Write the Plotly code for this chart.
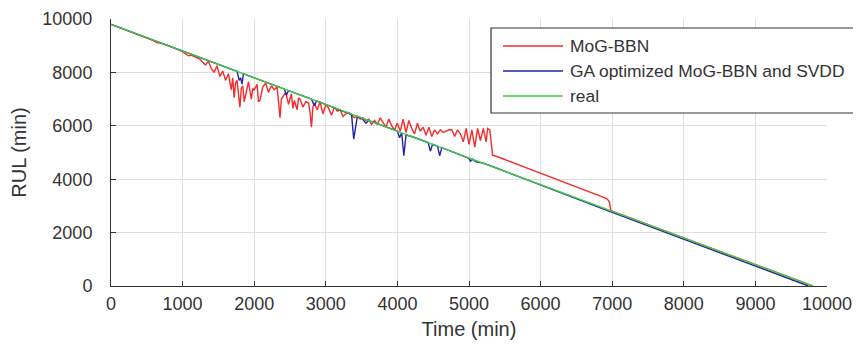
import plotly.graph_objects as go

# ---------------- data ----------------
real_t = [0, 9800]
real_rul = [9800, 0]

red_t = [0, 560, 600, 640, 680, 720, 800, 900, 1000, 1040, 1080, 1120, 1160, 1200,
         1240, 1280, 1320, 1360, 1400, 1440, 1480, 1520, 1560, 1600, 1640, 1680,
         1700, 1720, 1740, 1760, 1780, 1800, 1820, 1840, 1860, 1880, 1920, 1960,
         1980, 2000, 2040, 2060, 2080, 2120, 2160, 2200, 2240, 2280, 2320, 2340,
         2360, 2380, 2400, 2440, 2480, 2520, 2540, 2560, 2600, 2620, 2640, 2680,
         2720, 2760, 2780, 2800, 2820, 2840, 2880, 2920, 2960, 3000, 3040, 3080,
         3120, 3160, 3200, 3240, 3280, 3320, 3360, 3400, 3440, 3480, 3520, 3560,
         3600, 3640, 3680, 3720, 3760, 3800, 3840, 3880, 3920, 3960, 4000, 4040,
         4080, 4120, 4160, 4200, 4240, 4280, 4320, 4360, 4400, 4440, 4480, 4520,
         4560, 4600, 4640, 4680, 4720, 4760, 4800, 4840, 4880, 4920, 4960, 5000,
         5040, 5080, 5120, 5160, 5200, 5240, 5260, 5290, 5330, 5400, 6850, 6900,
         6930, 6960, 6980, 7000, 9800]
red_rul = [9800, 9240, 9180, 9120, 9110, 9080, 9000, 8900, 8780, 8700, 8620, 8650,
           8600, 8560, 8500, 8380, 8280, 8420, 8150, 8000, 8250, 7850, 8050, 7700,
           7950, 7350, 7800, 7050, 7600, 7700, 7100, 6700, 7400, 7500, 6900, 7200,
           7650, 7000, 7400, 7350, 7550, 6900, 6950, 7450, 7600, 7250, 7500, 7350,
           7450, 6900, 6300, 7000, 7100, 7250, 6800, 7200, 6650, 6950, 6600, 7050,
           7000, 6700, 6900, 6850, 6500, 5950, 6700, 6850, 6600, 6900, 6450, 6800,
           6650, 6400, 6700, 6550, 6600, 6350, 6450, 6500, 6400, 6300, 6350, 6250,
           6300, 6200, 6250, 6050, 6200, 6050, 6300, 6100, 5950, 6250, 6000, 5850,
           6100, 5800, 6250, 5750, 6200, 5900, 5700, 6100, 5800, 5950, 5650, 5950,
           5600, 5850, 5700, 5850, 5750, 5800, 5850, 5850, 5600, 5850, 5700, 5400,
           5900, 5300, 5850, 5200, 5900, 5450, 5900, 5400, 5900, 5850, 4900, 4840,
           3380, 3300, 3260, 3150, 2840, 2800, 0]

blue_t = [0, 1700, 1760, 1790, 1810, 1830, 1850, 1900, 2000, 2420, 2450, 2480,
          2800, 2840, 2870, 3000, 3300, 3360, 3390, 3420, 3440, 3500, 3560, 3600,
          3800, 4000, 4030, 4060, 4090, 4120, 4200, 4430, 4460, 4490, 4560, 4590,
          4620, 4800, 5000, 5020, 5050, 5100, 5200, 5400, 7000, 9740]
blue_rul = [9800, 8100, 8040, 7700, 7800, 7560, 7950, 7900, 7800, 7380, 7150, 7320,
            7000, 6750, 6930, 6800, 6500, 6420, 5500, 6100, 6340, 6300, 6100, 6200,
            6000, 5800, 5550, 5740, 4880, 5650, 5600, 5370, 5050, 5300, 5240, 4880,
            5180, 5000, 4780, 4680, 4750, 4650, 4600, 4400, 2760, 0]

x_ticks = [0, 1000, 2000, 3000, 4000, 5000, 6000, 7000, 8000, 9000, 10000]
y_ticks = [0, 2000, 4000, 6000, 8000, 10000]
legend_names = ["MoG-BBN", "GA optimized MoG-BBN and SVDD", "real"]

# ---------------- style ----------------
RED = "#f52b2b"
BLUE = "#2424a8"
GREEN = "#40cc40"
TXT = "#333333"
FONT = "Liberation Sans, Arial, sans-serif"

W, H = 861, 349
ML, MR, MT, MB = 103, 42, 11, 71
PW, PH = W - ML - MR, H - MT - MB

fig = go.Figure()
fig.add_trace(go.Scatter(x=red_t, y=red_rul, mode="lines", name=legend_names[0],
                         line=dict(color=RED, width=1.4), showlegend=False))
fig.add_trace(go.Scatter(x=blue_t, y=blue_rul, mode="lines", name=legend_names[1],
                         line=dict(color=BLUE, width=1.4), showlegend=False))
fig.add_trace(go.Scatter(x=real_t, y=real_rul, mode="lines", name=legend_names[2],
                         line=dict(color=GREEN, width=1.4), showlegend=False))

# manual legend (pixel -> paper)
def px(x):
    return (x - ML) / PW

def py(y):
    return (H - MB - y) / PH

fig.add_shape(type="rect", xref="paper", yref="paper",
              x0=px(483), x1=px(858), y0=py(105), y1=py(20),
              line=dict(color="#333333", width=1.2), fillcolor="white", layer="above")
for i, (name, col) in enumerate(zip(legend_names, [RED, BLUE, GREEN])):
    yy = 38 + 25 * i
    fig.add_shape(type="line", xref="paper", yref="paper",
                  x0=px(495), x1=px(555), y0=py(yy), y1=py(yy),
                  line=dict(color=col, width=1.5), layer="above")
    fig.add_annotation(xref="paper", yref="paper", x=px(560), y=py(yy),
                       text=name, showarrow=False, xanchor="left", yanchor="middle",
                       font=dict(family=FONT, size=17.4, color=TXT))

axis_common = dict(showline=True, linecolor="#333333", linewidth=1,
                   ticks="inside", ticklen=5, tickcolor="#333333",
                   showgrid=True, gridcolor="#dedede", gridwidth=1,
                   zeroline=False, mirror=False,
                   tickfont=dict(family=FONT, size=18, color=TXT))

fig.update_xaxes(range=[0, 10000], tickvals=x_ticks, ticktext=[str(v) for v in x_ticks],
                 title=dict(text="Time (min)", font=dict(family=FONT, size=20, color=TXT),
                            standoff=9),
                 ticklabelstandoff=1, **axis_common)
fig.update_yaxes(range=[0, 10000], tickvals=y_ticks, ticktext=[str(v) for v in y_ticks],
                 title=dict(text="RUL (min)", font=dict(family=FONT, size=20, color=TXT),
                            standoff=14),
                 ticklabelstandoff=14, **axis_common)

fig.update_layout(width=W, height=H, margin=dict(l=ML, r=MR, t=MT, b=MB, autoexpand=False),
                  paper_bgcolor="white", plot_bgcolor="white",
                  font=dict(family=FONT, color=TXT), showlegend=False)

fig.write_html("out.html")
